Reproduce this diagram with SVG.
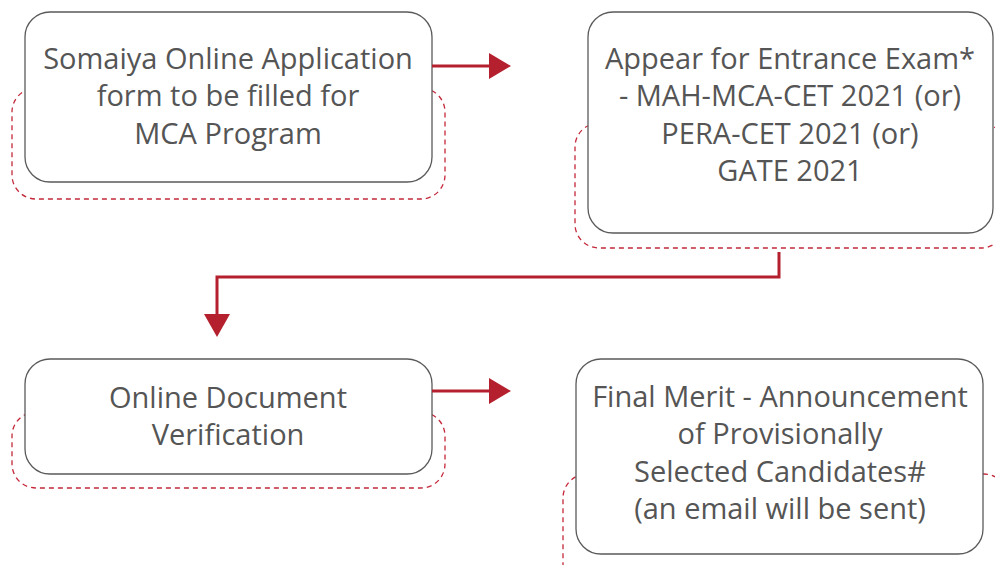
<svg xmlns="http://www.w3.org/2000/svg" width="995" height="565" viewBox="0 0 995 565">
<defs>
<style>
.dash{fill:none;stroke:#c4283a;stroke-width:1.3;stroke-dasharray:5 4}
.box{fill:#ffffff;stroke:#5a5a5a;stroke-width:1.3}
.lbl{font-family:"Open Sans","Noto Sans",sans-serif;font-size:29px;fill:#555555;text-anchor:middle}
.conn{fill:none;stroke:#b5202e;stroke-width:3}
.head{fill:#b5202e}
</style>
</defs>
<rect width="995" height="565" fill="#ffffff"/>
<g id="node1">
<rect class="dash" x="12" y="88" width="433" height="111" rx="24"/>
<rect class="box" x="25" y="12" width="407" height="170" rx="25"/>
<text class="lbl" x="228" y="69">Somaiya Online Application</text>
<text class="lbl" x="228" y="106">form to be filled for</text>
<text class="lbl" x="228" y="144">MCA Program</text>
</g>
<g id="node2">
<rect class="dash" x="575" y="123" width="430" height="125" rx="24"/>
<rect class="box" x="588" y="12" width="405" height="221" rx="25"/>
<text class="lbl" x="790" y="69">Appear for Entrance Exam*</text>
<text class="lbl" x="790" y="106">- MAH-MCA-CET 2021 (or)</text>
<text class="lbl" x="790" y="144">PERA-CET 2021 (or)</text>
<text class="lbl" x="790" y="181">GATE 2021</text>
</g>
<g id="node3">
<rect class="dash" x="12" y="412" width="433" height="76" rx="24"/>
<rect class="box" x="25" y="359" width="407" height="115" rx="25"/>
<text class="lbl" x="228" y="408">Online Document</text>
<text class="lbl" x="228" y="445">Verification</text>
</g>
<g id="node4">
<rect class="dash" x="563" y="474" width="445" height="120" rx="24"/>
<rect class="box" x="576" y="359" width="407" height="195" rx="25"/>
<text class="lbl" x="780" y="407">Final Merit - Announcement</text>
<text class="lbl" x="780" y="444">of Provisionally</text>
<text class="lbl" x="780" y="482">Selected Candidates#</text>
<text class="lbl" x="780" y="519">(an email will be sent)</text>
</g>
<g id="connectors">
<path class="conn" d="M432 66 H491"/>
<polygon class="head" points="489,53 511,66 489,79"/>
<path class="conn" d="M779 252 V277 H217 V315"/>
<polygon class="head" points="204,314 230,314 217,337"/>
<path class="conn" d="M432 391 H491"/>
<polygon class="head" points="489,378 511,391 489,404"/>
</g>
</svg>
